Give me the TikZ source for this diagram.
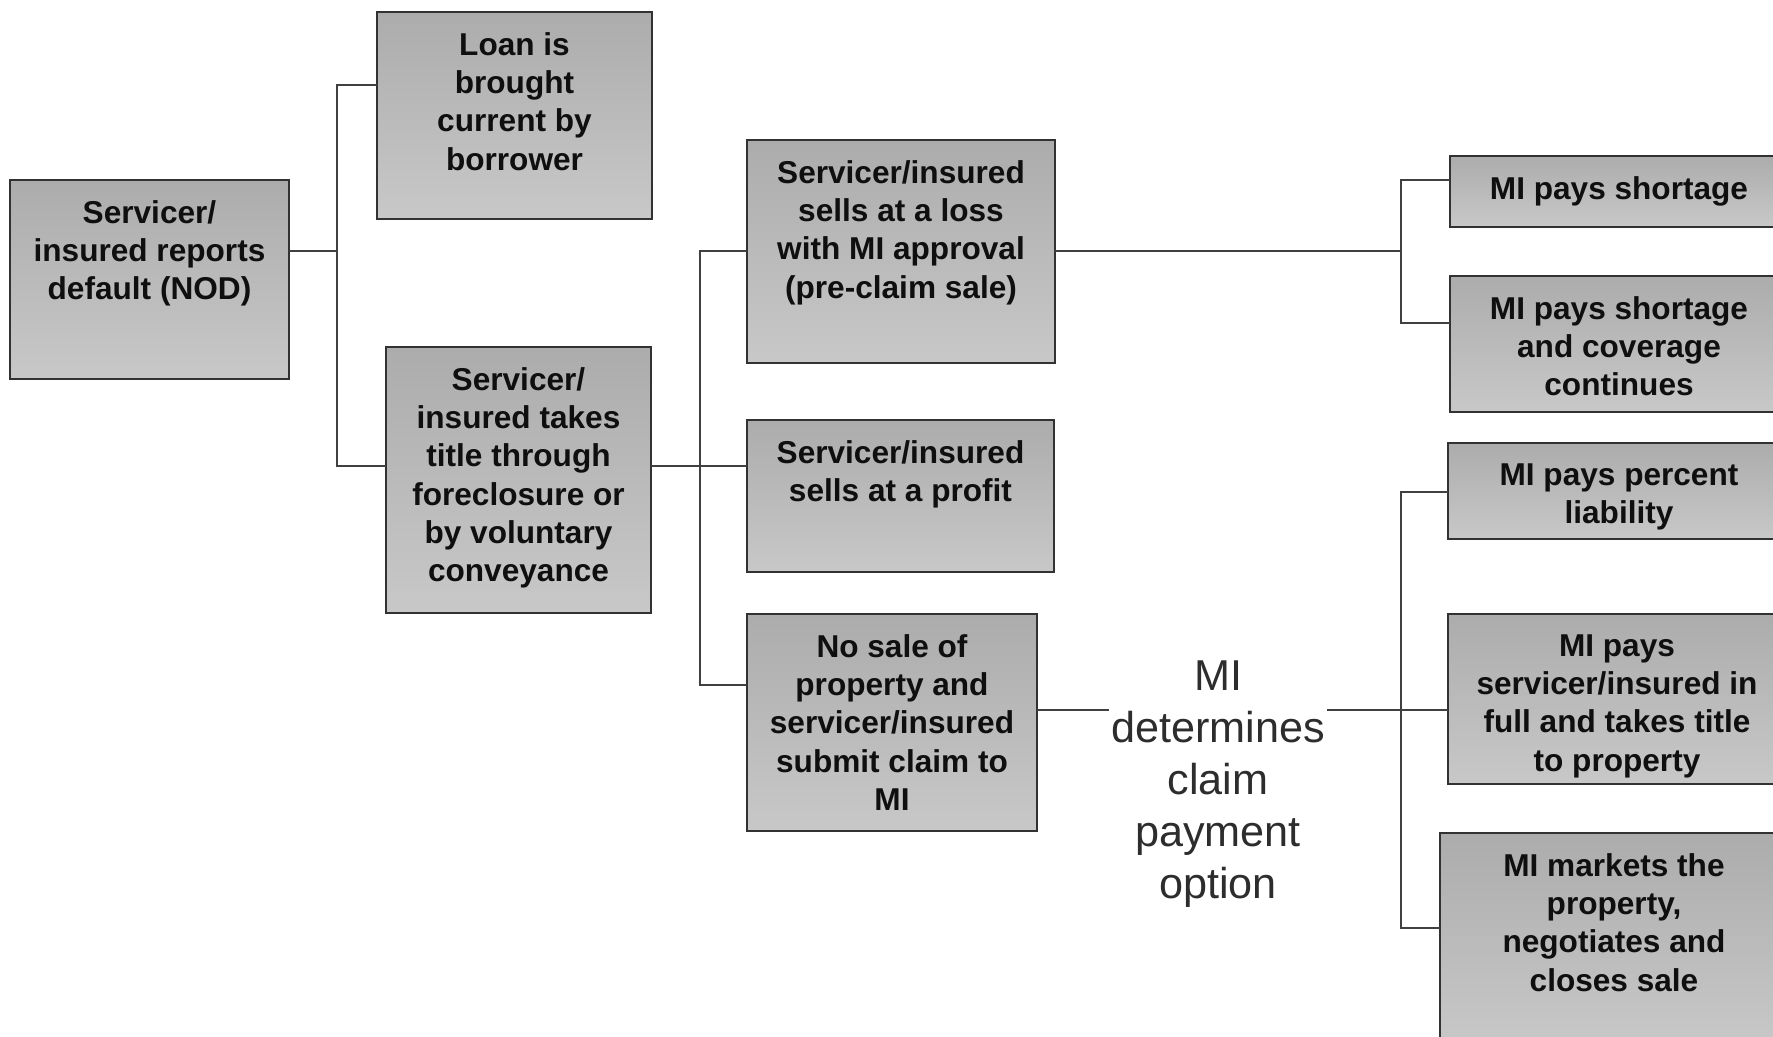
\documentclass[tikz,border=0pt]{standalone}
\usepackage{fontspec}
\setmainfont{Liberation Sans}
\usetikzlibrary{fit}
\definecolor{boxtop}{RGB}{172,172,172}
\definecolor{boxbot}{RGB}{200,200,200}
\definecolor{edge}{RGB}{50,50,50}
\definecolor{wire}{RGB}{64,64,64}
\definecolor{ink}{RGB}{15,15,15}
\definecolor{softink}{RGB}{45,45,45}
\tikzset{
  box/.style={draw=edge, line width=1pt, top color=boxtop, bottom color=boxbot,
              inner sep=0pt, outer sep=0pt},
  boxtext/.style={anchor=north, align=center, inner sep=0pt, text=ink,
              font=\bfseries\fontsize{15.8}{19.15}\selectfont},
  conn/.style={draw=wire, line width=0.8pt},
  note/.style={anchor=north, align=center, inner xsep=1pt, inner ysep=0pt, text=softink,
              font=\fontsize{21.6}{26}\selectfont}
}
\begin{document}
\begin{tikzpicture}[x=0.5pt, y=-0.5pt]
  \useasboundingbox (0,0) rectangle (1773,1037);

  % first column
  \node[box, fit={(10,180) (289,379)}] (A) {};
  \node[boxtext] (At) at ([yshift=-10pt]A.north) {Servicer/\\insured reports\\default (NOD)};

  % second column
  \node[box, fit={(377,12) (652,219)}] (B) {};
  \node[boxtext] (Bt) at ([yshift=-10pt]B.north) {Loan is\\brought\\current by\\borrower};
  \node[box, fit={(386,347) (651,613)}] (C) {};
  \node[boxtext] (Ct) at ([yshift=-10pt]C.north) {Servicer/\\insured takes\\title through\\foreclosure or\\by voluntary\\conveyance};

  % third column
  \node[box, fit={(747,140) (1055,363)}] (D) {};
  \node[boxtext] (Dt) at ([yshift=-10pt]D.north) {Servicer/insured\\sells at a loss\\with MI approval\\(pre-claim sale)};
  \node[box, fit={(747,420) (1054,572)}] (E) {};
  \node[boxtext] (Et) at ([yshift=-10pt]E.north) {Servicer/insured\\sells at a profit};
  \node[box, fit={(747,614) (1037,831)}] (F) {};
  \node[boxtext] (Ft) at ([yshift=-10pt]F.north) {No sale of\\property and\\servicer/insured\\submit claim to\\MI};

  % claim decision label
  \node[note] (det) at (1218,660) {MI\\determines\\claim\\payment\\option};

  % outcome column
  \node[box, fit={(1450,156) (1790,227)}] (G) {};
  \node[boxtext] (Gt) at ([yshift=-10pt]G.north -| 1619,0) {MI pays shortage};
  \node[box, fit={(1450,276) (1790,412)}] (H) {};
  \node[boxtext] (Ht) at ([yshift=-10pt]H.north -| 1619,0) {MI pays shortage\\and coverage\\continues};
  \node[box, fit={(1448,443) (1790,539)}] (I) {};
  \node[boxtext] (It) at ([yshift=-10pt]I.north -| 1619,0) {MI pays percent\\liability};
  \node[box, fit={(1448,614) (1790,784)}] (J) {};
  \node[boxtext] (Jt) at ([yshift=-10pt]J.north -| 1617,0) {MI pays\\servicer/insured in\\full and takes title\\to property};
  \node[box, fit={(1440,833) (1790,1045)}] (K) {};
  \node[boxtext] (Kt) at ([yshift=-10pt]K.north -| 1614,0) {MI markets the\\property,\\negotiates and\\closes sale};

  % branch points
  \coordinate (j1) at (337,251);
  \coordinate (j2) at (700,466);
  \coordinate (j3) at (1401,251);
  \coordinate (j4) at (1401,710);

  % connectors
  \draw[conn] (A.east |- j1) -- (j1);
  \draw[conn] (B.west |- 0,85) -| (j1) |- (C.west |- 0,466);

  \draw[conn] (C.east |- j2) -- (j2);
  \draw[conn] (D.west |- 0,251) -| (j2) |- (F.west |- 0,685);
  \draw[conn] (j2) -- (E.west |- j2);

  \draw[conn] (D.east |- j3) -- (j3);
  \draw[conn] (G.west |- 0,180) -| (j3) |- (H.west |- 0,323);

  \draw[conn] (F.east |- j4) -- (det.west |- j4);
  \draw[conn] (det.east |- j4) -- (J.west |- j4);
  \draw[conn] (I.west |- 0,492) -| (j4) |- (K.west |- 0,928);
\end{tikzpicture}
\end{document}
